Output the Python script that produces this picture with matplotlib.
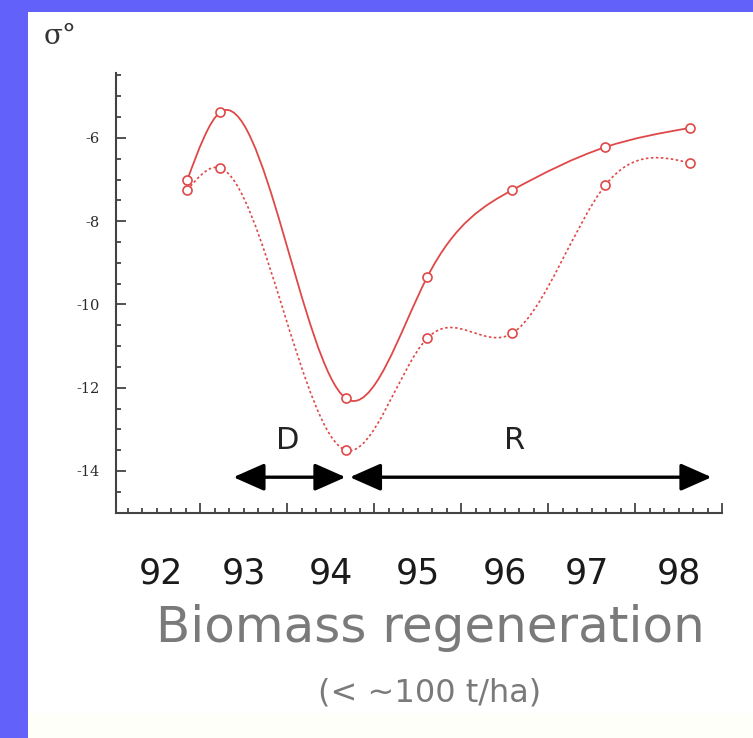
import numpy as np
import matplotlib
matplotlib.use('Agg')
import matplotlib.pyplot as plt
from matplotlib.path import Path
from matplotlib.patches import PathPatch, Rectangle
import matplotlib.transforms as mtransforms

# values
years_solid = [92.35, 92.73, 94.17, 95.11, 96.09, 97.16, 98.13]
sigma_solid = [-7.01, -5.38, -12.25, -9.34, -7.25, -6.22, -5.76]
years_dashed = [92.35, 92.73, 94.17, 95.11, 96.09, 97.16, 98.13]
sigma_dashed = [-7.25, -6.72, -13.50, -10.81, -10.69, -7.13, -6.60]
year_labels = ['92', '93', '94', '95', '96', '97', '98']
year_label_pos = [92.05, 93.0, 94.0, 95.0, 96.0, 96.95, 98.0]
phase_names = ['D', 'R']
phase_start = [92.88, 94.22]
phase_end = [94.17, 98.38]
phase_text_x = [93.5, 96.12]

red = '#e04848'
blue = '#6262fa'


def spline_path(x, y):
    # natural cubic spline, each piece written as a cubic bezier
    x = np.asarray(x, float)
    y = np.asarray(y, float)
    n = len(x)
    h = np.diff(x)
    A = np.zeros((n, n))
    b = np.zeros(n)
    A[0, 0] = A[-1, -1] = 1
    for i in range(1, n - 1):
        A[i, i - 1] = h[i - 1]
        A[i, i] = 2 * (h[i - 1] + h[i])
        A[i, i + 1] = h[i]
        b[i] = 6 * ((y[i + 1] - y[i]) / h[i] - (y[i] - y[i - 1]) / h[i - 1])
    M = np.linalg.solve(A, b)
    verts = [(x[0], y[0])]
    codes = [Path.MOVETO]
    for i in range(n - 1):
        s = (y[i + 1] - y[i]) / h[i]
        d0 = s - h[i] * (2 * M[i] + M[i + 1]) / 6
        d1 = s + h[i] * (M[i] + 2 * M[i + 1]) / 6
        verts += [(x[i] + h[i] / 3, y[i] + d0 * h[i] / 3),
                  (x[i + 1] - h[i] / 3, y[i + 1] - d1 * h[i] / 3),
                  (x[i + 1], y[i + 1])]
        codes += [Path.CURVE4] * 3
    return Path(verts, codes)


fig = plt.figure(figsize=(7.53, 7.38), dpi=100)
fig.patch.set_facecolor('white')
# slide frame
fig.patches.append(Rectangle((0, 0), 1, 25 / 738, transform=fig.transFigure,
                             facecolor='#fffffa', edgecolor='none', zorder=0))
fig.patches.append(Rectangle((0, 0), 28 / 753, 1, transform=fig.transFigure,
                             facecolor=blue, edgecolor='none', zorder=0))
fig.patches.append(Rectangle((0, 1 - 12 / 738), 1, 12 / 738, transform=fig.transFigure,
                             facecolor=blue, edgecolor='none', zorder=0))

ax = fig.add_axes([116 / 753, (738 - 513) / 738, (722 - 116) / 753, (513 - 73) / 738])
ax.set_xlim(91.53, 98.5)
ax.set_ylim(-15.01, -4.44)
ax.patch.set_alpha(0)

ax.add_patch(PathPatch(spline_path(years_solid, sigma_solid), fill=False,
                       edgecolor=red, lw=1.3))
ax.add_patch(PathPatch(spline_path(years_dashed, sigma_dashed), fill=False,
                       edgecolor=red, lw=1.2, linestyle=(0, (1.5, 1.5))))
ax.plot(years_solid, sigma_solid, 'o', mfc='white', mec=red, ms=6.5, mew=1.2)
ax.plot(years_dashed, sigma_dashed, 'o', mfc='white', mec=red, ms=6.5, mew=1.2)

for s in ['top', 'right']:
    ax.spines[s].set_visible(False)
for s in ['left', 'bottom']:
    ax.spines[s].set_color('#444444')
    ax.spines[s].set_linewidth(1.5)

ax.set_yticks([-6, -8, -10, -12, -14])
ax.set_yticks(np.arange(-15, -4.4, 0.5), minor=True)
ax.set_yticklabels(['-6', '-8', '-10', '-12', '-14'], family='DejaVu Serif',
                   fontsize=10.5, color='#2a2a2a')
ax.set_xticks(np.arange(92.5, 98.6, 1.0))
ax.set_xticks(np.arange(92.5 - 5 / 6, 98.51, 1 / 6), minor=True)
ax.set_xticklabels([])
ax.tick_params(which='both', direction='in', color='#444444', width=1.3)
ax.tick_params(which='major', length=7)
ax.tick_params(which='minor', length=3.5)
ax.tick_params(axis='y', which='major', pad=12)

# double-headed arrows for the phases
for a, b_, name, tx in zip(phase_start, phase_end, phase_names, phase_text_x):
    ax.annotate('', xy=(b_, -14.15), xytext=(a, -14.15),
                arrowprops=dict(arrowstyle='<|-|>,head_length=0.95,head_width=0.42',
                                mutation_scale=20, color='black', lw=2.4,
                                shrinkA=0, shrinkB=0))
    ax.text(tx, -13.26, name, fontsize=22, ha='center', va='center', color='#222222')

# year labels under the axis
trans = mtransforms.blended_transform_factory(ax.transData, fig.transFigure)
for xp, lab in zip(year_label_pos, year_labels):
    ax.text(xp, (738 - 573) / 738, lab, transform=trans, fontsize=25,
            ha='center', va='center', color='#1a1a1a')

fig.text(44 / 753, (738 - 36) / 738, 'σ°', fontsize=20, family='DejaVu Serif',
         ha='left', va='center', color='#333333')
fig.text(430 / 753, (738 - 628) / 738, 'Biomass regeneration', fontsize=36,
         ha='center', va='center', color='#7a7a7a')
fig.text(430 / 753, (738 - 693) / 738, '(< ~100 t/ha)', fontsize=23,
         ha='center', va='center', color='#7a7a7a')

fig.savefig('out.png', dpi=100)
